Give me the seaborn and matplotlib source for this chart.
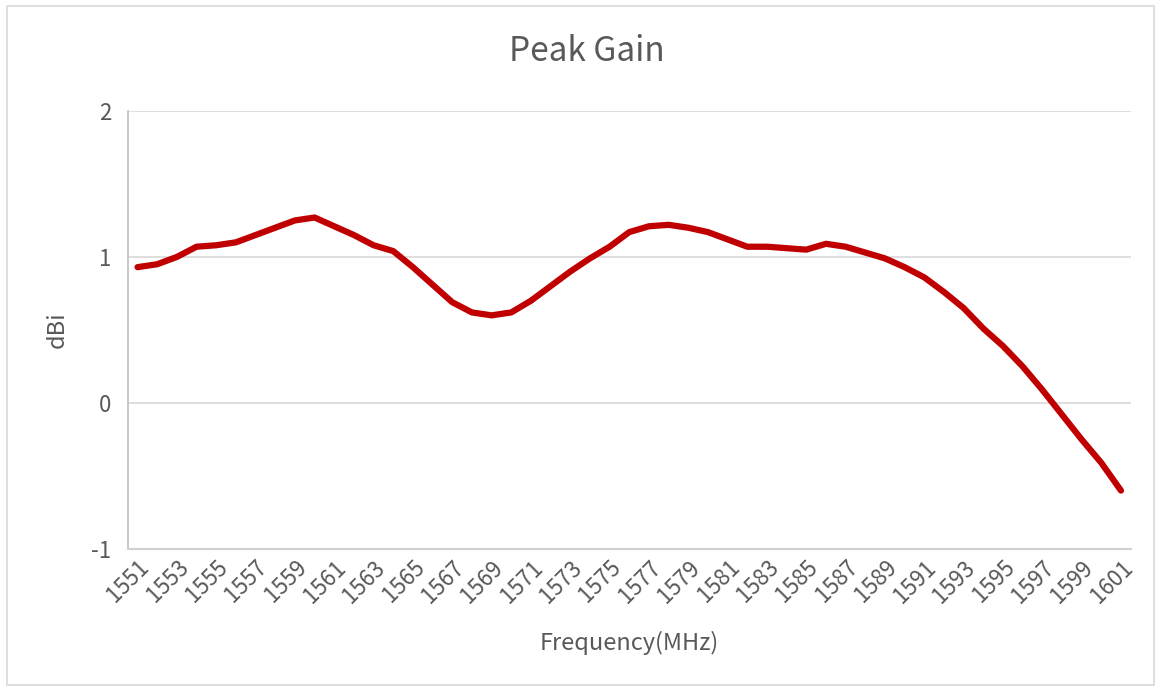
import numpy as np
import pandas as pd
import seaborn as sns
import matplotlib.pyplot as plt
from matplotlib.patches import Rectangle

# frequency points (MHz) and peak gain (dBi)
freq = list(range(1551, 1602))
gain = [0.93, 0.95, 1.00, 1.07, 1.08, 1.10, 1.15, 1.20, 1.25, 1.27,
        1.21, 1.15, 1.08, 1.04, 0.93, 0.81, 0.69, 0.62, 0.60, 0.62,
        0.70, 0.80, 0.90, 0.99, 1.07, 1.17, 1.21, 1.22, 1.20, 1.17,
        1.12, 1.07, 1.07, 1.06, 1.05, 1.09, 1.07, 1.03, 0.99, 0.93,
        0.86, 0.76, 0.65, 0.51, 0.39, 0.25, 0.09, -0.08, -0.25, -0.41,
        -0.60]
y_ticks = [-1, 0, 1, 2]
x_ticks = freq[::2]

df = pd.DataFrame({"Frequency": freq, "Gain": gain})

sns.set_theme(style="white")
plt.rcParams['font.family'] = ['Noto Sans CJK SC', 'DejaVu Sans']
plt.rcParams['axes.unicode_minus'] = False

text_col = '#595959'
fig = plt.figure(figsize=(11.61, 6.91), dpi=100)
ax = fig.add_axes([0.110, 0.2055, 0.864, 0.634])

sns.lineplot(data=df, x="Frequency", y="Gain", ax=ax, color='#c00000', linewidth=4.5)

ax.set_xlim(1550.5, 1601.5)
ax.set_ylim(-1, 2)
ax.set_yticks(y_ticks)
ax.set_xticks(x_ticks)
ax.set_xticklabels([str(v) for v in x_ticks], rotation=45, ha='right',
                   rotation_mode='anchor', fontsize=16, color=text_col)
ax.tick_params(axis='y', labelsize=16, labelcolor=text_col, length=0, pad=12)
ax.tick_params(axis='x', length=0, pad=5)
ax.grid(axis='y', color='#d9d9d9', linewidth=1.2)
for s in ['top', 'right']:
    ax.spines[s].set_visible(False)
ax.spines['left'].set_color('#bfbfbf')
ax.spines['bottom'].set_color('#d0d0d0')
ax.spines['left'].set_linewidth(1.2)
ax.spines['bottom'].set_linewidth(1.5)

fig.text(0.5056, 0.925, 'Peak Gain', fontsize=24, color=text_col, ha='center', va='center')
ax.set_xlabel('Frequency(MHz)', fontsize=17, color=text_col, va='center')
ax.xaxis.set_label_coords(0.5, -0.2146)
ax.set_ylabel('dBi', fontsize=17, color=text_col, va='center')
ax.yaxis.set_label_coords(-0.07, 0.5)

# outer chart border
fig.patches.append(Rectangle((0.006, 0.009), 0.988, 0.982, transform=fig.transFigure,
                             fill=False, edgecolor='#d9d9d9', linewidth=1.2))

plt.savefig('out.png', dpi=100)
